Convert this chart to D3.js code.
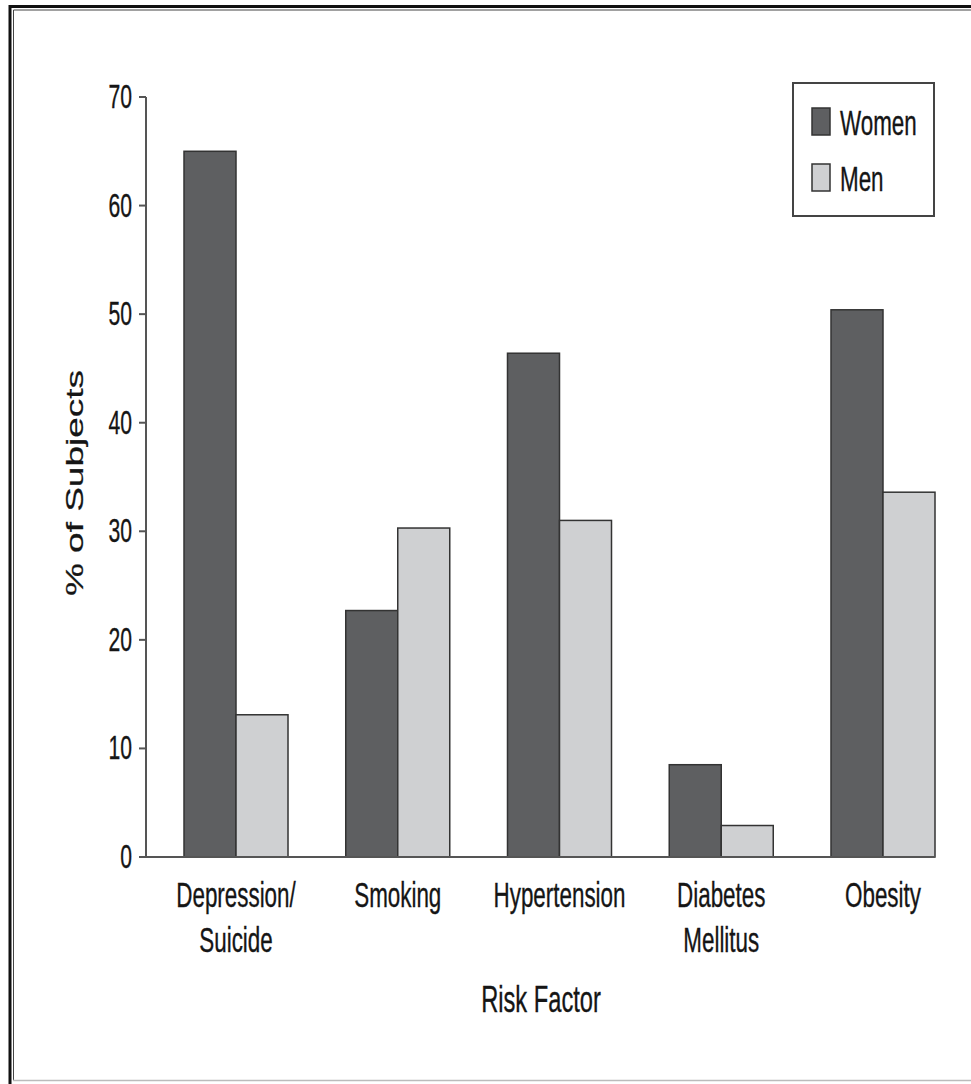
<!DOCTYPE html>
<html>
<head>
<meta charset="utf-8">
<script src="https://cdn.jsdelivr.net/npm/d3@7/dist/d3.min.js"></script>
<style>
  html, body { margin: 0; padding: 0; background: #fff; }
  text { font-family: "Liberation Sans", Arial, sans-serif; fill: #151515; stroke: #151515; stroke-width: 0.35px; }
</style>
</head>
<body>
<svg id="chart" width="971" height="1084"></svg>
<script>
const categories = [["Depression/", "Suicide"], ["Smoking"], ["Hypertension"], ["Diabetes", "Mellitus"], ["Obesity"]];
const seriesNames = ["Women", "Men"];
const women = [65.0, 22.7, 46.4, 8.5, 50.4];
const men = [13.1, 30.3, 31.0, 2.9, 33.6];
const yTicks = [0, 10, 20, 30, 40, 50, 60, 70];
const colors = ["#5e5f61", "#cfd0d2"];

const svg = d3.select("#chart");
const SX = 0.64; // horizontal condensing of the lettering

// frame: double line on top and left, light line at bottom
svg.append("path").attr("d", "M10,1084 L10,6.5 L971,6.5")
  .attr("fill", "none").attr("stroke", "#111").attr("stroke-width", 3);
svg.append("path").attr("d", "M13.5,1080 L13.5,10 L971,10")
  .attr("fill", "none").attr("stroke", "#444").attr("stroke-width", 1);
svg.append("line").attr("x1", 13).attr("x2", 971).attr("y1", 1080.5).attr("y2", 1080.5)
  .attr("stroke", "#bbb").attr("stroke-width", 1.5);

const y = d3.scaleLinear().domain([0, 70]).range([857, 97]);
const idx = d3.range(categories.length);
const x = d3.scaleBand().domain(idx).range([184, 935]).paddingInner(0.357).paddingOuter(0);
const xs = d3.scaleBand().domain(seriesNames).range([0, x.bandwidth()]);

const axisColor = "#555";
// y axis
svg.append("line").attr("x1", 146).attr("x2", 146).attr("y1", y(70)).attr("y2", y(0))
  .attr("stroke", axisColor).attr("stroke-width", 2);
const yt = svg.append("g");
yTicks.forEach(t => {
  yt.append("line").attr("x1", 139).attr("x2", 146).attr("y1", y(t)).attr("y2", y(t))
    .attr("stroke", axisColor).attr("stroke-width", 2);
  yt.append("text").attr("transform", `translate(132,${y(t) + 11}) scale(${SX},1)`)
    .attr("text-anchor", "end").attr("font-size", 33).text(t);
});

// bars
const data = [women, men];
idx.forEach(i => {
  seriesNames.forEach((s, j) => {
    svg.append("rect")
      .attr("x", x(i) + xs(s)).attr("width", xs.bandwidth())
      .attr("y", y(data[j][i])).attr("height", y(0) - y(data[j][i]))
      .attr("fill", colors[j]).attr("stroke", "#333").attr("stroke-width", 1.5);
  });
});

// x axis line
svg.append("line").attr("x1", 145).attr("x2", x(idx[idx.length - 1]) + x.bandwidth())
  .attr("y1", y(0)).attr("y2", y(0)).attr("stroke", axisColor).attr("stroke-width", 2);

// category labels
idx.forEach(i => {
  const cx = x(i) + x.bandwidth() / 2;
  categories[i].forEach((line, k) => {
    svg.append("text").attr("transform", `translate(${cx},${907 + k * 45}) scale(${SX},1)`)
      .attr("text-anchor", "middle").attr("font-size", 35).text(line);
  });
});

// axis titles
svg.append("text").attr("transform", `translate(541,1012) scale(${SX},1)`)
  .attr("text-anchor", "middle").attr("font-size", 37).text("Risk Factor");
svg.append("text").attr("transform", `translate(83,483) scale(${SX},1) rotate(-90)`)
  .attr("text-anchor", "middle").attr("font-size", 37).text("% of Subjects");

// legend
svg.append("rect").attr("x", 793).attr("y", 83).attr("width", 141).attr("height", 133)
  .attr("fill", "#fff").attr("stroke", "#444").attr("stroke-width", 2);
seriesNames.forEach((s, j) => {
  const ly = 108 + j * 56;
  svg.append("rect").attr("x", 812).attr("y", ly).attr("width", 18).attr("height", 27)
    .attr("fill", colors[j]).attr("stroke", "#333").attr("stroke-width", 1.5);
  svg.append("text").attr("transform", `translate(840,${ly + 27}) scale(${SX},1)`)
    .attr("font-size", 35).text(s);
});
</script>
</body>
</html>
